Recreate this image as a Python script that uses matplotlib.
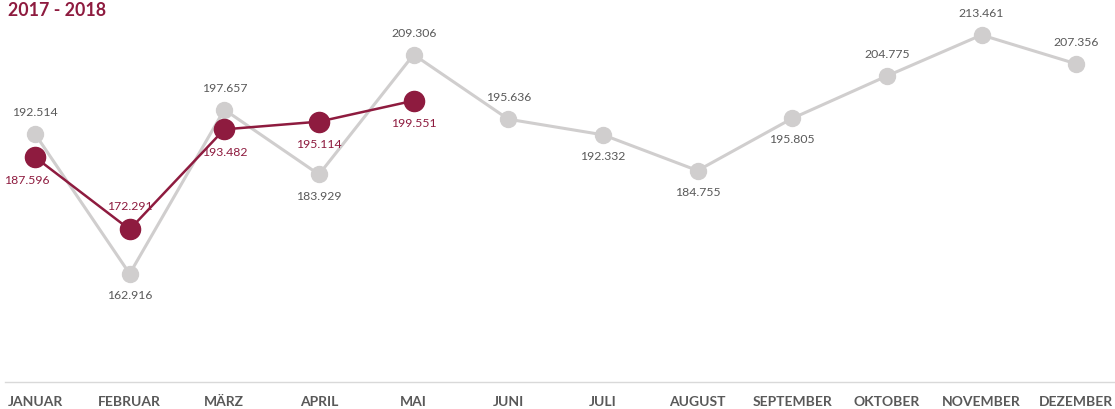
import matplotlib
matplotlib.use("Agg")
from matplotlib import pyplot as plt

plt.rcParams["font.family"] = ["Lato", "DejaVu Sans"]

monate = ["JANUAR", "FEBRUAR", "MÄRZ", "APRIL", "MAI", "JUNI", "JULI", "AUGUST",
          "SEPTEMBER", "OKTOBER", "NOVEMBER", "DEZEMBER"]
werte_2017 = [192.514, 162.916, 197.657, 183.929, 209.306, 195.636, 192.332, 184.755,
              195.805, 204.775, 213.461, 207.356]
werte_2018 = [187.596, 172.291, 193.482, 195.114, 199.551]

# label position: 1 = above, -1 = below
pos_2017 = [1, -1, 1, -1, 1, 1, -1, -1, -1, 1, 1, 1]
pos_2018 = [-1, 1, -1, -1, -1]

grau = "#D0CECE"
rot = "#8E1B3F"
text_grau = "#595959"

fig = plt.figure(figsize=(11.15, 4.09), dpi=100)
ax = fig.add_axes([0, 0.066, 1, 0.924])

x1 = range(len(werte_2017))
x2 = range(len(werte_2018))

ax.plot(x1, werte_2017, color=grau, lw=2.2, marker="o", ms=11.5, zorder=2)
ax.plot(x2, werte_2018, color=rot, lw=1.8, marker="o", ms=14.5, zorder=3)

for i, v in enumerate(werte_2017):
    ax.annotate(f"{v:.3f}", (i, v), xytext=(0, 15.5 * pos_2017[i]), textcoords="offset points",
                ha="center", va="center", fontsize=8.8, color=text_grau)
for i, v in enumerate(werte_2018):
    dx = -6 if i == 0 else 0
    ax.annotate(f"{v:.3f}", (i, v), xytext=(dx, 16.5 * pos_2018[i]), textcoords="offset points",
                ha="center", va="center", fontsize=8.8, color=rot)

ax.set_xlim(-0.37, 11.41)
ax.set_ylim(140, 220)
ax.plot([-0.32, 11.41], [140, 140], color="#D9D9D9", lw=1, clip_on=False, zorder=1)

for s in ax.spines.values():
    s.set_visible(False)
ax.set_yticks([])
ax.set_xticks(list(x1))
ax.set_xticklabels(monate, fontsize=10, fontweight="bold", color=text_grau)
ax.tick_params(axis="x", length=0, pad=10)

fig.text(0.007, 0.975, "2017 - 2018", fontsize=12.8, fontweight="bold", color=rot,
         ha="left", va="center")

fig.savefig("out.png", dpi=100)
